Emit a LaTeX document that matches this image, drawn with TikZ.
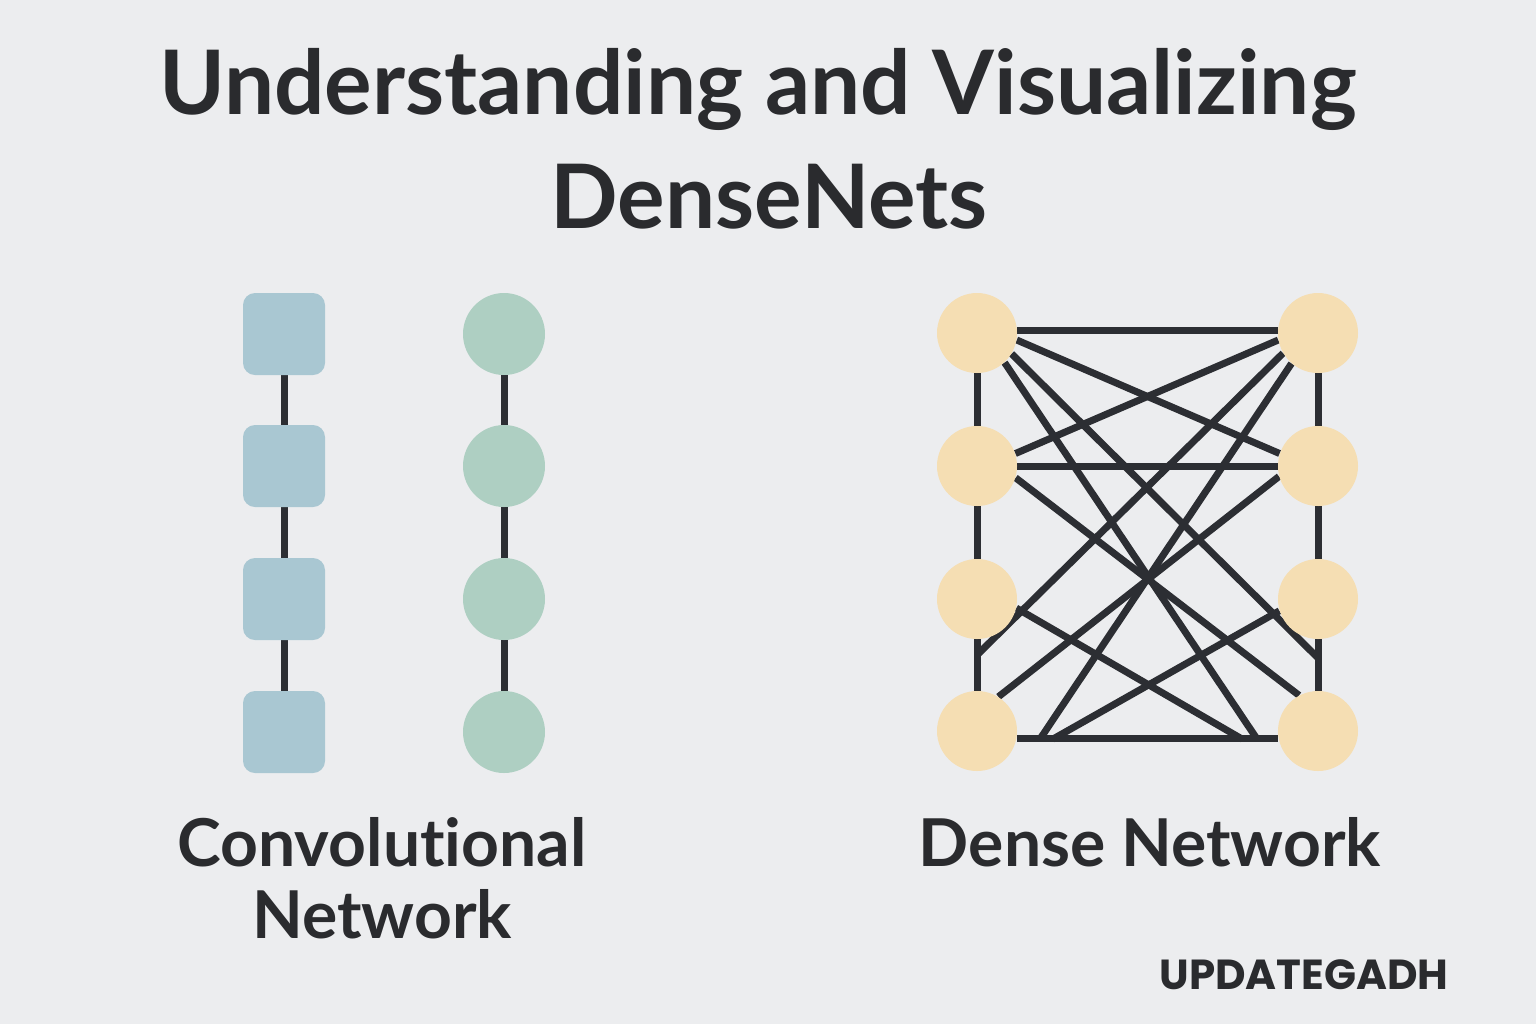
\documentclass[tikz,border=0pt]{standalone}
\usepackage{fontspec}
\setmainfont{Lato}[Ligatures=NoCommon]
\newfontfamily\markfont{Poppins}
\usetikzlibrary{backgrounds}

\definecolor{paper}{HTML}{ECEDEF}
\definecolor{boxblue}{HTML}{A9C7D2}
\definecolor{dotgreen}{HTML}{AECFC2}
\definecolor{dotsand}{HTML}{F5DEB3}
\definecolor{linkgray}{HTML}{2C2E33}
\definecolor{inkgray}{HTML}{2A2B2E}

\tikzset{
  convbox/.style={fill=boxblue, rounded corners=6pt, minimum size=41pt, inner sep=0pt},
  convdot/.style={circle, fill=dotgreen, minimum size=41pt, inner sep=0pt},
  densedot/.style={circle, fill=dotsand, minimum size=40pt, inner sep=0pt},
  link/.style={draw=linkgray, line width=3.5pt},
  heading/.style={text=inkgray, font=\bfseries\fontsize{44.5}{50}\selectfont},
  caption/.style={text=inkgray, font=\bfseries\fontsize{33}{36}\selectfont, align=center},
}

\begin{document}
\begin{tikzpicture}[x=0.5pt,y=-0.5pt]
  \useasboundingbox (0,0) rectangle (1536,1024);

  % title
  \node[heading] (title1) at (758,89) {Understanding and Visualizing};
  \node[heading] (title2) at (769,197) {DenseNets};

  % convolutional network
  \node[convbox] (c1) at (284,334) {};
  \node[convbox] (c2) at (284,466) {};
  \node[convbox] (c3) at (284,599) {};
  \node[convbox] (c4) at (284,732) {};
  \node[convdot] (g1) at (504,334) {};
  \node[convdot] (g2) at (504,466) {};
  \node[convdot] (g3) at (504,599) {};
  \node[convdot] (g4) at (504,732) {};

  % dense network
  \node[densedot] (l1) at (977,333) {};
  \node[densedot] (l2) at (977,466) {};
  \node[densedot] (l3) at (977,599) {};
  \node[densedot] (l4) at (977,731) {};
  \node[densedot] (r1) at (1318,333) {};
  \node[densedot] (r2) at (1318,466) {};
  \node[densedot] (r3) at (1318,599) {};
  \node[densedot] (r4) at (1318,731) {};

  % free ends of the crossing lines
  \coordinate (b1) at (1257,739);
  \coordinate (b2) at (1242,739);
  \coordinate (b3) at (1040,739);
  \coordinate (b4) at (1053,739);
  \coordinate (v1) at (1318,658);
  \coordinate (v2) at (977,655);

  \begin{scope}[on background layer]
    \fill[paper] (0,0) rectangle (1536,1024);
    \foreach \a/\b in {c1/c2,c2/c3,c3/c4,g1/g2,g2/g3,g3/g4,l1/l2,l2/l3,l3/l4,r1/r2,r2/r3,r3/r4}
      \draw[link] (\a.south) -- (\b.north);
    \draw[link] (l1.4) -- (r1.176);
    \draw[link] (l2.0) -- (r2.180);
    \draw[link] (l4.-11) -- (r4.191);
    \draw[link] (l1.-10) -- (r2.162);
    \draw[link] (l1.-47) -- (b1);
    \draw[link] (l1.-31) -- (v1);
    \draw[link] (l2.18) -- (r1.190);
    \draw[link] (l2.-17) -- (r4.118);
    \draw[link] (l3.-13) -- (b2);
    \draw[link] (r1.210) -- (v2);
    \draw[link] (r1.229) -- (b3);
    \draw[link] (r2.195) -- (l4.58);
    \draw[link] (r3.197) -- (b4);
  \end{scope}

  % labels
  \node[caption] (convlabel) at (382,878) {Convolutional\\Network};
  \node[caption] (denselabel) at (1150,842) {Dense Network};
  \node[text=inkgray, font=\markfont\bfseries\fontsize{21}{24}\selectfont] (mark) at (1304,975) {UPDATEGADH};
\end{tikzpicture}
\end{document}
